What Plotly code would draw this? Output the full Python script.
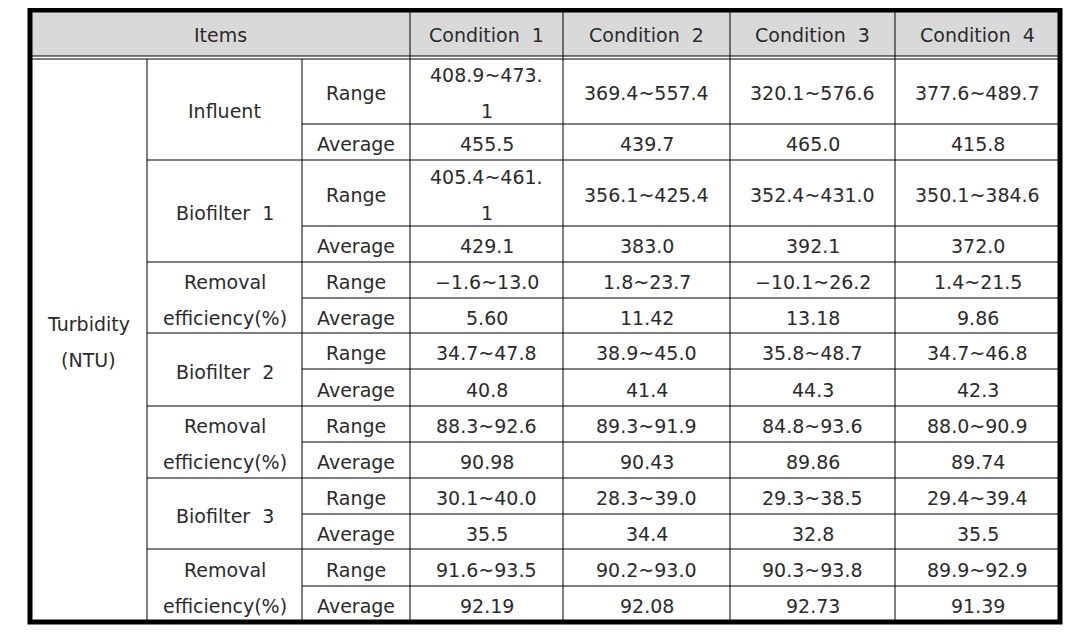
import plotly.graph_objects as go

# ---- table content ----
HEADER_ITEMS = "Items"
CONDITIONS = ["Condition\u00a0\u00a01", "Condition\u00a0\u00a02", "Condition\u00a0\u00a03", "Condition\u00a0\u00a04"]
PARAMETER = "Turbidity<br>(NTU)"
STAGES = [
    "Influent",
    "Biofilter\u00a0\u00a01",
    "Removal<br>efficiency(%)",
    "Biofilter\u00a0\u00a02",
    "Removal<br>efficiency(%)",
    "Biofilter\u00a0\u00a03",
    "Removal<br>efficiency(%)",
]
STATS = ["Range", "Average"]

cond1_range = ["408.9~473.1", "405.4~461.1", "\u22121.6~13.0", "34.7~47.8", "88.3~92.6", "30.1~40.0", "91.6~93.5"]
cond1_avg = ["455.5", "429.1", "5.60", "40.8", "90.98", "35.5", "92.19"]
cond2_range = ["369.4~557.4", "356.1~425.4", "1.8~23.7", "38.9~45.0", "89.3~91.9", "28.3~39.0", "90.2~93.0"]
cond2_avg = ["439.7", "383.0", "11.42", "41.4", "90.43", "34.4", "92.08"]
cond3_range = ["320.1~576.6", "352.4~431.0", "\u221210.1~26.2", "35.8~48.7", "84.8~93.6", "29.3~38.5", "90.3~93.8"]
cond3_avg = ["465.0", "392.1", "13.18", "44.3", "89.86", "32.8", "92.73"]
cond4_range = ["377.6~489.7", "350.1~384.6", "1.4~21.5", "34.7~46.8", "88.0~90.9", "29.4~39.4", "89.9~92.9"]
cond4_avg = ["415.8", "372.0", "9.86", "42.3", "89.74", "35.5", "91.39"]

RANGES = [cond1_range, cond2_range, cond3_range, cond4_range]
AVERAGES = [cond1_avg, cond2_avg, cond3_avg, cond4_avg]

# ---- layout of the grid (pixel-ish units) ----
COL_WIDTHS = [117, 155, 108, 153, 167, 165, 165]
HEADER_H = 47
BODY_ROW_HEIGHTS = [67, 36, 66, 36, 36, 35, 36, 37, 36, 36, 36, 35, 37, 36]
LINE_STEP = 36
FONT = dict(family="DejaVu Sans", size=19, color="#2b2b2b")

col_x = [0]
for w in COL_WIDTHS:
    col_x.append(col_x[-1] + w)
row_y = [HEADER_H]
for h in BODY_ROW_HEIGHTS:
    row_y.append(row_y[-1] + h)
total_w = col_x[-1]
total_h = row_y[-1]

fig = go.Figure()
shapes = []
annotations = []


def line(x0, y0, x1, y1, width=1):
    shapes.append(dict(type="line", xref="x", yref="y", x0=x0, y0=y0, x1=x1, y1=y1,
                       line=dict(color="black", width=width)))


def cell_text(x0, x1, y0, y1, text):
    lines = text.split("<br>")
    cx = (x0 + x1) / 2
    cy = (y0 + y1) / 2
    n = len(lines)
    for i, t in enumerate(lines):
        annotations.append(dict(x=cx, y=cy + (i - (n - 1) / 2) * LINE_STEP, xref="x", yref="y",
                                text=t, showarrow=False, font=FONT, yshift=-2,
                                xanchor="center", yanchor="middle"))


def wrap(text, width):
    # rough wrap for narrow cells
    max_chars = int((width - 12) / 13)
    if len(text) <= max_chars:
        return text
    parts = [text[i:i + max_chars] for i in range(0, len(text), max_chars)]
    return "<br>".join(parts)


# header background
shapes.append(dict(type="rect", xref="x", yref="y", x0=0, x1=total_w, y0=0, y1=HEADER_H - 1,
                   fillcolor="#d9d9d9", line=dict(width=0), layer="below"))
# header double rule
line(0, HEADER_H - 1, total_w, HEADER_H - 1)
line(0, HEADER_H + 2, total_w, HEADER_H + 2)

cell_text(col_x[0], col_x[3], 0, HEADER_H - 1, HEADER_ITEMS)
for j, c in enumerate(CONDITIONS):
    cell_text(col_x[3 + j], col_x[4 + j], 0, HEADER_H - 1, c)

# parameter cell spanning all body rows
cell_text(col_x[0], col_x[1], row_y[0], row_y[-1], PARAMETER)

for k, stage in enumerate(STAGES):
    r0 = row_y[2 * k]
    rm = row_y[2 * k + 1]
    r1 = row_y[2 * k + 2]
    cell_text(col_x[1], col_x[2], r0, r1, stage)
    cell_text(col_x[2], col_x[3], r0, rm, STATS[0])
    cell_text(col_x[2], col_x[3], rm, r1, STATS[1])
    for j in range(len(CONDITIONS)):
        w = COL_WIDTHS[3 + j]
        cell_text(col_x[3 + j], col_x[4 + j], r0, rm, wrap(RANGES[j][k], w))
        cell_text(col_x[3 + j], col_x[4 + j], rm, r1, AVERAGES[j][k])
    # rules
    line(col_x[2], rm, total_w, rm)
    if k < len(STAGES) - 1:
        line(col_x[1], r1, total_w, r1)

# vertical rules
line(col_x[1], HEADER_H + 2, col_x[1], total_h)
line(col_x[2], HEADER_H + 2, col_x[2], total_h)
for x in col_x[3:-1]:
    line(x, 0, x, total_h)

# thick outer frame around the plotting domain (paper refs are not clipped)
shapes.append(dict(type="rect", xref="paper", yref="paper", x0=0, x1=1, y0=0, y1=1,
                   line=dict(color="black", width=5)))

# page body has an 8px margin, so the figure is sized to fit inside it
fig.update_layout(
    width=1059,
    height=617,
    margin=dict(l=22, r=7, t=2, b=3),
    paper_bgcolor="white",
    plot_bgcolor="white",
    showlegend=False,
    shapes=shapes,
    annotations=annotations,
    xaxis=dict(range=[0, total_w], visible=False, fixedrange=True),
    yaxis=dict(range=[total_h, 0], visible=False, fixedrange=True),
)

fig.write_html("out.html")
